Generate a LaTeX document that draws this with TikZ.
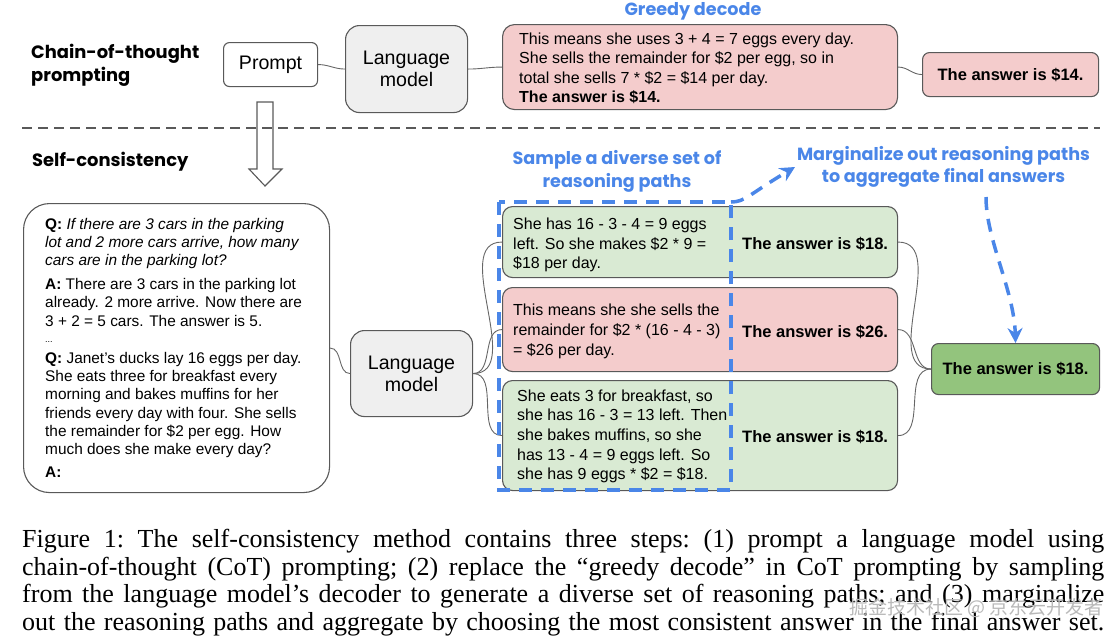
\documentclass[tikz,border=0pt]{standalone}
\usepackage{fontspec}
\setmainfont{Liberation Sans}
\newfontfamily\headfont{Poppins}
\newfontfamily\capfont{Liberation Serif}
\newfontfamily\cjk{Noto Sans CJK SC}
\usetikzlibrary{arrows.meta}
\definecolor{pinkfill}{HTML}{F4CCCC}
\definecolor{greenfill}{HTML}{D9EAD3}
\definecolor{finalfill}{HTML}{93C47D}
\definecolor{lmfill}{HTML}{EFEFEF}
\definecolor{edgec}{HTML}{595959}
\definecolor{gblue}{HTML}{4A86E8}
\definecolor{connc}{HTML}{666666}
\tikzset{
  box/.style={draw=edgec, line width=1.1pt, inner sep=0pt, anchor=north west},
  conn/.style={draw=connc, line width=0.9pt},
  tline/.style={anchor=base west, inner sep=0pt, font=\fontsize{16}{19.5}\selectfont},
  qline/.style={anchor=base west, inner sep=0pt, font=\fontsize{15.4}{18.3}\selectfont},
  ansline/.style={anchor=base west, inner sep=0pt, font=\fontsize{16.5}{19.5}\selectfont\bfseries},
  heading/.style={inner sep=0pt, align=left, font=\headfont\bfseries\fontsize{17.9}{23}\selectfont},
  bluehead/.style={inner sep=0pt, align=center, text=gblue, font=\headfont\bfseries\fontsize{17.6}{22.5}\selectfont},
  lmtext/.style={align=center, font=\fontsize{19.6}{22}\selectfont},
  capline/.style={anchor=base west, inner sep=0pt, font=\capfont\fontsize{26}{28}\selectfont\frenchspacing},
  bluedash/.style={draw=gblue, line width=3.5pt, dash pattern=on 13pt off 9pt},
}
\begin{document}
\begin{tikzpicture}[x=1pt,y=-1pt]
\useasboundingbox (0,0) rectangle (1120,641);

% ---------- Chain-of-thought row ----------
\node[heading, anchor=west] (cothead) at (31,65.5) {Chain-of-thought\\prompting};
\node[box, minimum width=94pt, minimum height=44pt, rounded corners=6pt, font=\fontsize{19.6}{22}\selectfont] (prompt) at (223,42) {Prompt};
\node[box, fill=lmfill, minimum width=122pt, minimum height=87pt, rounded corners=14pt, lmtext] (lm1) at (345,25) {Language\\model};
\node[box, fill=pinkfill, minimum width=395pt, minimum height=85pt, rounded corners=12pt] (greedy) at (502,24) {};
\node[bluehead] (greedyhead) at (693,11) {Greedy decode};
\node[tline] (g1) at (519,44) {This means she uses 3 + 4 = 7 eggs every day.};
\node[tline] (g2) at (519,63.5) {She sells the remainder for \$2 per egg, so in};
\node[tline] (g3) at (519,83) {total she sells 7 * \$2 = \$14 per day.};
\node[tline, font=\fontsize{16}{19.5}\selectfont\bfseries] (g4) at (519,102.5) {The answer is \$14.};
\node[box, fill=pinkfill, minimum width=176pt, minimum height=44pt, rounded corners=7pt, font=\fontsize{16.5}{19.5}\selectfont\bfseries] (ans14) at (922,52) {The answer is \$14.};

\draw[conn] (prompt.east) to[out=0,in=180] (lm1.west);
\draw[conn] (lm1.east) to[out=0,in=180] (greedy.west);
\draw[conn] (greedy.east) to[out=0,in=180] (ans14.west);

% separator
\draw[draw=edgec, line width=2pt, dash pattern=on 10pt off 6pt] (22,128) -- (1100,128);

% hollow arrow
\draw[draw=edgec, line width=1.1pt, line join=miter] (257,102) -- (273,102) -- (273,169) -- (282,169) -- (265,186) -- (249,169) -- (257,169) -- cycle;

% ---------- Self-consistency row ----------
\node[heading, anchor=west] (schead) at (32,162) {Self-consistency};

\node[box, minimum width=306pt, minimum height=289pt, rounded corners=26pt] (qbox) at (23,203) {};
\node[qline] (q1) at (45,229) {\textbf{Q:} \textit{If there are 3 cars in the parking}};
\node[qline] (q2) at (45,247) {\textit{lot and 2 more cars arrive, how many}};
\node[qline] (q3) at (45,265.5) {\textit{cars are in the parking lot?}};
\node[qline] (q4) at (45,289.5) {\textbf{A:} There are 3 cars in the parking lot};
\node[qline] (q5) at (45,307.5) {already. 2 more arrive. Now there are};
\node[qline] (q6) at (45,326) {3 + 2 = 5 cars. The answer is 5.};
\node[qline, font=\fontsize{9}{10}\selectfont] (q7) at (45,342) {...};
\node[qline] (q8) at (45,363.5) {\textbf{Q:} Janet’s ducks lay 16 eggs per day.};
\node[qline] (q9) at (45,381.5) {She eats three for breakfast every};
\node[qline] (q10) at (45,399.5) {morning and bakes muffins for her};
\node[qline] (q11) at (45,418) {friends every day with four. She sells};
\node[qline] (q12) at (45,436) {the remainder for \$2 per egg. How};
\node[qline] (q13) at (45,454.5) {much does she make every day?};
\node[qline] (q14) at (45,477.5) {\textbf{A:}};

\node[box, fill=lmfill, minimum width=122pt, minimum height=86pt, rounded corners=14pt, lmtext] (lm2) at (350,330) {Language\\model};

\node[box, fill=greenfill, minimum width=395pt, minimum height=71pt, rounded corners=10pt] (r1) at (502,206) {};
\node[box, fill=pinkfill, minimum width=395pt, minimum height=84pt, rounded corners=10pt] (r2) at (502,287) {};
\node[box, fill=greenfill, minimum width=395pt, minimum height=110pt, rounded corners=10pt] (r3) at (502,380) {};

\node[tline] (a1) at (513,229.5) {She has 16 - 3 - 4 = 9 eggs};
\node[tline] (a2) at (513,249.5) {left. So she makes \$2 * 9 =};
\node[tline] (a3) at (513,268.5) {\$18 per day.};
\node[tline] (b1) at (513,315.5) {This means she she sells the};
\node[tline] (b2) at (513,335.5) {remainder for \$2 * (16 - 4 - 3)};
\node[tline] (b3) at (513,355.5) {= \$26 per day.};
\node[tline] (c1) at (517,401.5) {She eats 3 for breakfast, so};
\node[tline] (c2) at (517,420.5) {she has 16 - 3 = 13 left. Then};
\node[tline] (c3) at (517,440.5) {she bakes muffins, so she};
\node[tline] (c4) at (517,460.5) {has 13 - 4 = 9 eggs left. So};
\node[tline] (c5) at (517,479.5) {she has 9 eggs * \$2 = \$18.};

\node[ansline] (ra1) at (742,249.5) {The answer is \$18.};
\node[ansline] (ra2) at (742,337.5) {The answer is \$26.};
\node[ansline] (ra3) at (742,442.5) {The answer is \$18.};

\node[box, fill=finalfill, minimum width=168pt, minimum height=51pt, rounded corners=7pt, font=\fontsize{16.5}{19.5}\selectfont\bfseries] (final) at (931,343) {The answer is \$18.};

\draw[conn] (qbox.east) to[out=0,in=180] (lm2.west);
\draw[conn] (lm2.east) to[out=0,in=180] (r1.west);
\draw[conn] (lm2.east) to[out=0,in=180] (r2.west);
\draw[conn] (lm2.east) to[out=0,in=180] (r3.west);
\draw[conn] (r1.east) to[out=0,in=180] (final.west);
\draw[conn] (r2.east) to[out=0,in=180] (final.west);
\draw[conn] (r3.east) to[out=0,in=180] (final.west);

% blue dashed selection
\draw[bluedash] (499,202) rectangle (731,490);
\node[bluehead] (samplehead) at (617,171.5) {Sample a diverse set of\\reasoning paths};
\node[bluehead] (marghead) at (943.5,167) {Marginalize out reasoning paths\\to aggregate final answers};
\coordinate (rectTR) at (731,202);
\coordinate (margtip) at (795,167);
\coordinate (margbot) at (986,197);
\draw[bluedash, -{Stealth[length=15pt,width=15pt,inset=5pt]}] (rectTR) .. controls (745,202) and (748,195) .. (margtip);
\draw[bluedash, -{Stealth[length=15pt,width=15pt,inset=5pt]}] (margbot) .. controls (986,240) and (1014,290) .. (final.north);

% ---------- caption ----------
\node[capline] (cap1) at (22,547) {\makebox[1082pt][s]{Figure 1: The self-consistency method contains three steps: (1) prompt a language model using}};
\node[capline] (cap2) at (22,575) {\makebox[1082pt][s]{chain-of-thought (CoT) prompting; (2) replace the “greedy decode” in CoT prompting by sampling}};
\node[capline] (cap3) at (22,602.5) {\makebox[1082pt][s]{from the language model’s decoder to generate a diverse set of reasoning paths; and (3) marginalize}};
\node[capline] (cap4) at (22,630) {\makebox[1082pt][s]{out the reasoning paths and aggregate by choosing the most consistent answer in the final answer set.}};

% watermark
\node[inner sep=0pt, anchor=east, text=gray!55, font=\cjk\fontsize{19}{20}\selectfont] (wm) at (1104,608) {掘金技术社区 @ 京东云开发者};
\end{tikzpicture}
\end{document}
